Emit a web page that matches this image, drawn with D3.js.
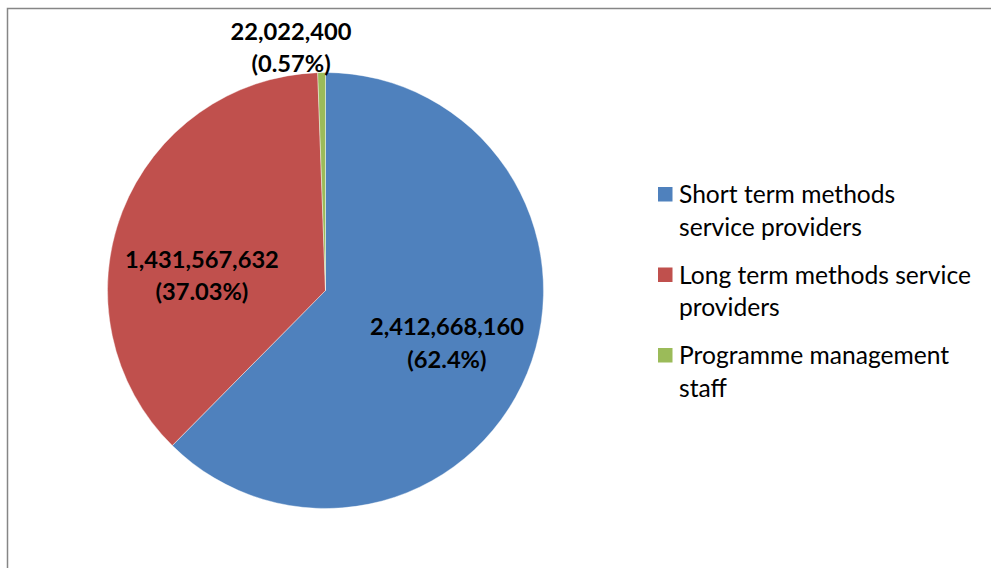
<!DOCTYPE html>
<html>
<head>
<meta charset="utf-8">
<script src="https://cdn.jsdelivr.net/npm/d3@7"></script>
<style>
  html, body { margin: 0; padding: 0; background: #fff; }
  svg { display: block; }
</style>
</head>
<body>
<svg id="chart" width="991" height="568"></svg>
<script>
// ---- data ----
const categories = ["Short term methods service providers", "Long term methods service providers", "Programme management staff"];
const legendLines = [["Short term methods", "service providers"], ["Long term methods service", "providers"], ["Programme management", "staff"]];
const values = [2412668160, 1431567632, 22022400];
const colors = ["#4F81BD", "#C0504D", "#9BBB59"];

// ---- layout ----
const W = 991, H = 568;
const cx = 325.5, cy = 290.5, R = 218;
// label centres relative to pie centre, in radius units
const labelOffsets = [[0.557, 0.241], [-0.567, -0.069], [-0.158, -1.115]];

const svg = d3.select("#chart");

// frame
svg.append("rect")
  .attr("x", 7.5).attr("y", 8.5).attr("width", W + 10).attr("height", H + 10)
  .attr("fill", "#fff").attr("stroke", "#868686").attr("stroke-width", 1.5);

const total = d3.sum(values);
const pie = d3.pie().sort(null).value(d => d)(values);
const arc = d3.arc().innerRadius(0).outerRadius(R);

const g = svg.append("g").attr("transform", `translate(${cx},${cy})`);
g.selectAll("path").data(pie).enter().append("path")
  .attr("d", arc)
  .attr("fill", (d, i) => colors[i])
  .attr("stroke", "#fff").attr("stroke-width", 0.4);

// fit font size to target width
function fitSize(text, weight, family, targetW) {
  const t = svg.append("text").attr("font-family", family).attr("font-weight", weight)
    .attr("font-size", 100).text(text);
  const w = t.node().getComputedTextLength();
  t.remove();
  return 100 * targetW / w;
}
const FAMILY = "Lato, 'Open Sans', 'Liberation Sans', sans-serif";
const labelSize = Math.min(24, fitSize("2,412,668,160", 700, FAMILY, 154));
const legendSize = Math.min(25, fitSize("Long term methods service", 400, FAMILY, 292));

const fmt = d3.format(",");
const lineGap = 32.5;
pie.forEach((d, i) => {
  const pct = +(values[i] / total * 100).toFixed(2);
  const lx = cx + labelOffsets[i][0] * R, ly = cy + labelOffsets[i][1] * R;
  const t = svg.append("text")
    .attr("font-family", FAMILY).attr("font-weight", 700).attr("font-size", labelSize)
    .attr("fill", "#000").attr("text-anchor", "middle");
  t.append("tspan").attr("x", lx).attr("y", ly - lineGap / 2).attr("dy", "0.36em").text(fmt(values[i]));
  t.append("tspan").attr("x", lx).attr("y", ly + lineGap / 2).attr("dy", "0.36em").text(`(${pct}%)`);
});

// legend
const legX = 658, legY0 = 194.5, legStep = 80.5, legLine = 32.5;
const leg = svg.append("g");
categories.forEach((c, i) => {
  const y = legY0 + i * legStep;
  leg.append("rect").attr("x", legX).attr("y", y - 7.5).attr("width", 14.5).attr("height", 14.5)
    .attr("fill", colors[i]);
  const t = leg.append("text").attr("font-family", FAMILY).attr("font-size", legendSize).attr("fill", "#000");
  legendLines[i].forEach((ln, k) => {
    t.append("tspan").attr("x", legX + 21).attr("y", y + k * legLine).attr("dy", "0.36em").text(ln);
  });
});
</script>
</body>
</html>
